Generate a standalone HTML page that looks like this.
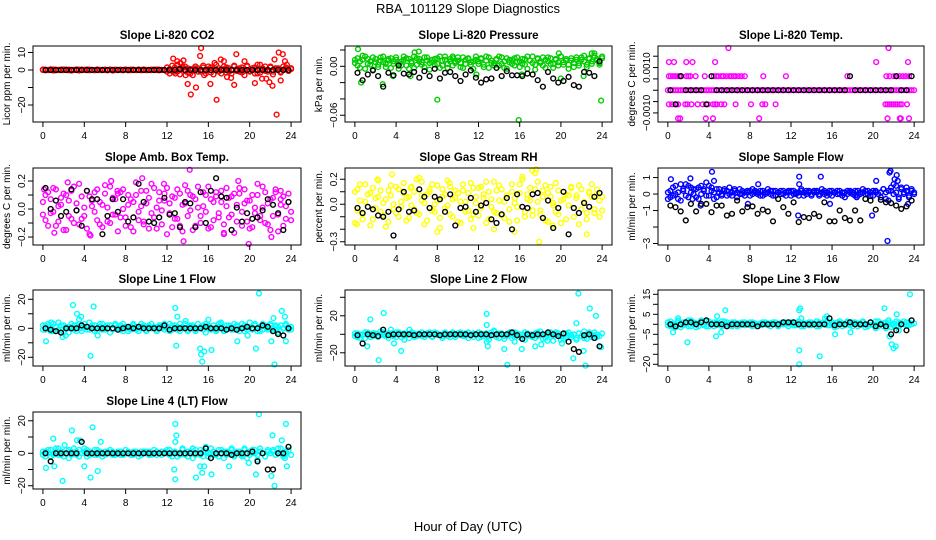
<!DOCTYPE html>
<html><head><meta charset="utf-8"><title>RBA_101129 Slope Diagnostics</title>
<style>
html,body{margin:0;padding:0;background:#fff;}
svg{display:block;font-family:"Liberation Sans",Arial,sans-serif;}
</style></head>
<body>
<svg id="chart" width="936" height="540" viewBox="0 0 936 540" xmlns="http://www.w3.org/2000/svg">
<rect x="0" y="0" width="936" height="540" fill="#fff"/>
<text x="468" y="13" text-anchor="middle" font-size="13">RBA_101129  Slope Diagnostics</text>
<text x="468" y="531" text-anchor="middle" font-size="13">Hour of Day (UTC)</text>
</svg>
<script>
const xTicks = [0,4,8,12,16,20,24];
const xTickLabels = ['0','4','8','12','16','20','24'];
const hours = [0,0.25,0.5,0.75,1,1.25,1.5,1.75,2,2.25,2.5,2.75,3,3.25,3.5,3.75,4,4.25,4.5,4.75,5,5.25,5.5,5.75,6,6.25,6.5,6.75,7,7.25,7.5,7.75,8,8.25,8.5,8.75,9,9.25,9.5,9.75,10,10.25,10.5,10.75,11,11.25,11.5,11.75,12,12.25,12.5,12.75,13,13.25,13.5,13.75,14,14.25,14.5,14.75,15,15.25,15.5,15.75,16,16.25,16.5,16.75,17,17.25,17.5,17.75,18,18.25,18.5,18.75,19,19.25,19.5,19.75,20,20.25,20.5,20.75,21,21.25,21.5,21.75,22,22.25,22.5,22.75,23,23.25,23.5,23.75,24];
const hoursB = [0.25,0.75,1.25,1.75,2.25,2.75,3.25,3.75,4.25,4.75,5.25,5.75,6.25,6.75,7.25,7.75,8.25,8.75,9.25,9.75,10.25,10.75,11.25,11.75,12.25,12.75,13.25,13.75,14.25,14.75,15.25,15.75,16.25,16.75,17.25,17.75,18.25,18.75,19.25,19.75,20.25,20.75,21.25,21.75,22.25,22.75,23.25,23.75];

// CO2
const co2Band = [0.3,-0.2,0.1,0.4,-0.3,0.2,0,-0.1,0.3,0.2,-0.2,0.1,0,0.3,-0.3,0.2,0.1,-0.1,0.2,0,-0.2,0.3,0.1,-0.1,0.2,0,0.1,-0.3,0.2,0.1,0,-0.2,0.3,0.1,-0.1,0.2,0,0.1,-0.2,0.3,0.1,0,-0.1,0.2,0.3,-0.2,0.1,0,1.5,-2,2.5,-1,3,-2.5,1,2,-1.5,0.5,-3,2,1,-1,2.5,-2,0.5,1.5,-2.5,3,-1,0.5,2,-1.5,1,-2,2.5,0.5,-1,1.5,-3,2,-0.5,1,-2,3,-1.5,0.5,2,-1,1.5,-2.5,0.5,1,-1.5,2,0.5,-0.5,1];
const co2Band2 = [0,0.2,-0.1,0,0.3,-0.2,0.1,0.2,-0.1,0,0.2,-0.3,0.1,0,0.2,-0.1,0,0.3,-0.2,0.1,0,0.2,-0.1,0.1,0,-0.2,0.3,0.1,0,-0.1,0.2,0,0.1,-0.2,0.2,0,-0.1,0.3,0.1,0,-0.2,0.1,0.2,0,-0.1,0.2,0,0.1,-1,0.5,-0.5,1.5,-1,0,2,-0.5,1,-2,0.5,1,-1,0,1.5,-0.5,2,-1.5,0.5,0,1,-2,0.5,1.5,-1,0,2,-0.5,1,-1.5,0.5,2.5,-1,0,1.5,-2,0.5,1,-0.5,0,2,-1,1,0.5,-1,0,1.5,-0.5,0.5];
const co2OutX = [12.6,12.8,13,13.3,13.6,13.8,14,14.3,14.8,15.2,15.3,15.6,16.2,16.6,16.8,17.2,17.5,17.8,18.2,18.5,18.7,19.5,20.5,21,21.2,21.6,21.9,22.2,22.4,22.6,22.8,23,23.2,23.4,23.6];
const co2OutY = [6.5,-2,5,4,5.5,-3,-8,-14,-10,8,12.5,-3,-8,4,-17,6,5,-4,-4.5,-8.5,9,5,-7.5,3,-5,-5,-7,-9,6,-25.5,10,-6,9,5,3];
const co2Black = [0,0,0,0,0,0,0,0,0,0,0,0,0,0,0,0,0,0,0,0,0,0,0,0,0,0,0.5,0,0,0,0,0,0,0,0,0,0,0,0,0,0,0,0,0,0,0,0,0];

// Pressure
const pBand = [0.004,0.010,-0.002,0.008,0.012,0.003,0.006,-0.004,0.009,0.002,0.011,0.005,-0.001,0.007,0.010,0.003,0.008,-0.003,0.006,0.012,0.001,0.009,0.004,-0.002,0.010,0.006,0.002,0.011,0.007,-0.004,0.005,0.009,0.003,0.012,0.001,0.008,-0.002,0.006,0.010,0.004,0.007,-0.001,0.011,0.003,0.009,0.005,-0.003,0.008,0.006,0.010,0.002,0.012,-0.002,0.007,0.004,0.009,0.001,0.011,0.006,-0.003,0.008,0.003,0.010,0.005,-0.001,0.009,0.002,0.012,0.007,0.004,-0.004,0.010,0.006,0.001,0.008,0.011,0.003,-0.002,0.009,0.005,0.012,0.002,0.007,-0.003,0.010,0.004,0.008,0.001,0.011,0.006,-0.001,0.009,0.003,0.013,0.007,0.002,0.010];
const pBand2 = [0.008,0.001,0.006,0.013,-0.003,0.009,0.002,0.011,0.005,-0.001,0.007,0.012,0.003,0.009,-0.002,0.006,0.011,0.004,0.001,0.008,0.010,-0.003,0.006,0.012,0.002,0.009,0.005,-0.001,0.011,0.004,0.008,0.002,0.010,-0.002,0.007,0.012,0.003,0.009,0.001,0.006,0.011,0.004,-0.002,0.008,0.010,0.002,0.006,0.012,0.003,0.009,-0.001,0.007,0.011,0.004,0.001,0.008,0.012,0.003,-0.002,0.010,0.005,0.008,0.001,0.011,0.006,0.003,0.009,-0.003,0.007,0.012,0.002,0.009,0.004,0.011,-0.002,0.006,0.010,0.003,0.008,0.001,0.012,0.005,0.009,0.002,0.007,-0.001,0.011,0.004,0.008,0.013,0.002,0.010,0.006,0.016,0.009,0.004,0.012];
const pOutX = [0.3,0.6,2.7,5.8,6.2,8,9.5,15.9,19.8,20,23,23.9,3.7,5.4,11.8,16.2,22.2];
const pOutY = [0.021,-0.020,-0.022,0.017,0.018,-0.041,0.012,-0.066,0.016,-0.015,0.016,-0.042,-0.012,-0.012,-0.010,-0.010,-0.012];
const pBlack = [-0.008,-0.017,-0.010,-0.005,-0.012,-0.025,-0.008,-0.011,0.001,-0.009,-0.010,-0.007,-0.014,-0.006,-0.012,-0.003,-0.015,-0.008,-0.007,-0.012,-0.018,-0.010,-0.005,-0.014,-0.020,-0.016,-0.015,-0.002,-0.012,-0.006,-0.011,-0.011,-0.012,-0.009,-0.010,-0.017,-0.025,-0.007,-0.015,-0.020,-0.018,-0.013,-0.023,-0.025,-0.007,-0.008,-0.012,0.006];

// Li-820 Temp (discrete levels)
const tBand = [0,0,0,0,0,0,0,0,0,0,0,0,0,0,0,0,0,0,0,0,0,0,0,0,0,0,0,0,0,0,0,0,0,0,0,0,0,0,0,0,0,0,0,0,0,0,0,0,0,0,0,0,0,0,0,0,0,0,0,0,0,0,0,0,0,0,0,0,0,0,0,0,0,0,0,0,0,0,0,0,0,0,0,0,0,0,0,0,0,0,0,0,0,0,0,0,0];
const tOutX = [0.1,0.3,0.5,0.7,0.9,1.1,1.3,1.8,2.0,2.2,2.7,3.6,4.5,4.7,4.9,5.2,5.4,5.7,6.0,6.2,6.4,6.6,6.9,7.2,7.5,9.3,11.5,17.5,21.3,21.6,22.0,22.3,22.6,22.9,23.2,23.5,0.1,0.6,1.8,2.4,4.6,20.3,23.4,5.9,21.5,0.1,0.4,0.8,1.0,1.7,1.9,2.3,2.9,3.4,3.9,4.4,4.6,4.8,5.2,5.5,6.6,8.1,9.2,9.5,10.5,21.2,21.4,21.6,21.8,22.0,22.2,22.4,22.6,22.8,23.3,1.0,1.2,3.7,4.4,8.9,21.4,22.6,22.7,23.5];
const tOutY = [0.00062,0.00062,0.00062,0.00062,0.00062,0.00062,0.00062,0.00062,0.00062,0.00062,0.00062,0.00062,0.00062,0.00062,0.00062,0.00062,0.00062,0.00062,0.00062,0.00062,0.00062,0.00062,0.00062,0.00062,0.00062,0.00062,0.00062,0.00062,0.00062,0.00062,0.00062,0.00062,0.00062,0.00062,0.00062,0.00062,0.00124,0.00124,0.00124,0.00124,0.00124,0.00124,0.00124,0.00186,0.00186,-0.00062,-0.00062,-0.00062,-0.00062,-0.00062,-0.00062,-0.00062,-0.00062,-0.00062,-0.00062,-0.00062,-0.00062,-0.00062,-0.00062,-0.00062,-0.00062,-0.00062,-0.00062,-0.00062,-0.00062,-0.00062,-0.00062,-0.00062,-0.00062,-0.00062,-0.00062,-0.00062,-0.00062,-0.00062,-0.00062,-0.00124,-0.00124,-0.00124,-0.00124,-0.00124,-0.00124,-0.00124,-0.00124,-0.00124];
const tBlack = [0,-0.00062,0.00062,0,0,0,0,-0.00062,0.00062,0,0,0,0,0,0,0,0,0,0,0,0,0,0,0,0,0,0,0,0,0,0,0,0,0,0,0.00062,0,0,0,0,0,0,0,0,0.00062,0,0,0.00062];

// Amb box temp
const amb1 = [0.05,-0.08,0.12,-0.03,0.15,-0.12,0.02,0.08,-0.15,0.10,-0.05,0.13,-0.10,0.04,0.18,-0.07,0.01,-0.14,0.09,0.06,-0.02,0.14,-0.11,0.03,0.11,-0.09,0.16,-0.04,0.07,-0.16,0.12,0.00,-0.06,0.10,-0.13,0.05,0.19,-0.08,0.02,-0.11,0.13,0.08,-0.03,0.15,-0.14,0.06,-0.01,0.11,-0.18,0.04,0.09,-0.07,0.14,-0.12,0.03,0.17,-0.05,0.10,-0.15,0.07,0.01,-0.10,0.12,-0.02,0.16,-0.13,0.05,0.09,-0.06,0.13,-0.17,0.02,0.08,-0.04,0.11,-0.09,0.15,-0.12,0.04,0.06,-0.14,0.10,-0.03,0.18,-0.08,0.01,0.12,-0.11,0.07,-0.05,0.14,-0.16,0.03,0.09,-0.07,0.11,-0.02];
const amb2 = [-0.04,0.10,-0.12,0.07,-0.02,0.14,-0.09,0.03,0.11,-0.15,0.06,-0.07,0.16,-0.01,-0.11,0.09,-0.05,0.13,-0.18,0.02,0.12,-0.08,0.05,-0.13,0.17,0.01,-0.10,0.08,-0.04,0.11,-0.06,0.14,-0.12,0.03,0.07,-0.16,0.10,-0.02,0.13,-0.09,0.04,-0.14,0.18,-0.06,0.01,0.12,-0.11,0.06,0.15,-0.03,-0.13,0.08,-0.07,0.11,-0.16,0.04,0.13,-0.01,0.09,-0.12,0.16,-0.05,0.02,0.10,-0.14,0.07,-0.08,0.12,-0.03,0.05,-0.11,0.15,-0.06,0.09,-0.17,0.03,0.11,-0.02,0.14,-0.09,0.06,-0.13,0.01,0.10,-0.05,0.16,-0.10,0.04,-0.15,0.08,0.12,-0.04,0.07,-0.12,0.02,0.05,-0.08];
const ambOutX = [0.1,1.1,4.6,7.2,9.6,13.9,14.2,13.6,17.5,18.9,19.9,23,22.1,11.7,2.4,6.6];
const ambOutY = [0.14,-0.17,-0.19,0.13,0.22,0.30,0.28,-0.23,-0.18,0.20,-0.25,0.13,-0.20,0.18,0.19,0.20];
const ambBlack = [0.15,0,0.06,-0.05,-0.02,0.14,-0.01,-0.12,0.13,0.07,0.07,-0.18,-0.05,0.07,-0.02,0.07,-0.09,-0.06,0.18,0.05,-0.09,-0.10,-0.06,0.08,-0.04,-0.03,-0.13,0.05,0.04,-0.13,0.12,-0.10,0.13,0.22,0.09,0.08,-0.15,0.01,-0.09,-0.03,-0.07,-0.06,-0.01,0.07,0.03,-0.03,-0.15,0.05];

// Gas stream RH
const rh1 = [-0.15,0.12,0.03,-0.08,0.16,-0.02,0.09,-0.12,0.05,0.19,-0.06,0.01,-0.18,0.11,0.07,-0.04,0.14,-0.10,0.02,0.17,-0.13,0.06,-0.01,0.10,-0.07,0.21,0.03,-0.16,0.08,0.12,-0.05,0.00,0.15,-0.11,0.06,-0.03,0.19,-0.08,0.04,0.11,-0.14,0.02,0.16,-0.06,0.09,-0.12,0.13,0.01,-0.09,0.14,0.05,-0.15,0.10,-0.02,0.18,-0.07,0.03,0.12,-0.11,0.07,-0.04,0.16,0.01,-0.13,0.09,0.22,-0.06,0.04,0.13,-0.09,0.25,0.02,-0.05,0.11,0.15,-0.14,0.06,-0.01,0.17,-0.08,0.03,0.10,-0.12,0.07,0.14,-0.03,0.05,-0.16,0.12,0.01,-0.07,0.09,0.16,-0.04,0.08,-0.10,0.06];
const rh2 = [0.10,-0.05,0.16,-0.12,0.02,0.08,-0.17,0.13,-0.03,0.06,0.11,-0.09,0.04,-0.14,0.15,0.00,-0.07,0.12,-0.02,0.09,0.05,-0.11,0.14,-0.04,0.20,-0.08,0.07,0.01,-0.13,0.10,0.16,-0.06,0.03,-0.19,0.12,0.08,-0.01,0.14,-0.10,0.05,0.09,-0.15,0.11,0.02,-0.05,0.17,-0.08,0.06,0.13,-0.03,0.08,0.18,-0.12,0.04,-0.06,0.11,0.15,-0.09,0.02,0.07,-0.14,0.10,0.05,-0.02,0.16,0.20,-0.10,0.08,0.03,-0.05,0.12,0.18,-0.08,0.06,-0.13,0.09,0.14,0.01,-0.06,0.11,-0.15,0.04,0.08,-0.01,0.13,-0.10,0.07,0.15,-0.04,0.02,-0.12,0.10,0.06,-0.07,0.12,0.03,-0.05];
const rhOutX = [0.2,3.6,5.4,6.5,8,9.2,13.5,15.5,17.2,17.6,17.9,22.5,11.5,19.2,2.2];
const rhOutY = [-0.16,0.24,0.13,0.18,-0.22,0.17,-0.20,-0.22,0.27,0.28,-0.30,-0.24,-0.19,-0.17,0.20];
const rhBlack = [-0.03,-0.07,-0.02,-0.04,-0.09,-0.10,-0.06,-0.25,-0.04,0.10,-0.06,-0.05,0.12,0.06,-0.03,0.06,0.04,-0.06,0.08,-0.17,-0.03,-0.02,0.05,-0.06,-0.01,0.01,-0.12,-0.15,-0.08,0.05,-0.20,0.08,-0.02,-0.03,0.08,0.09,-0.11,0.03,-0.19,-0.03,0.10,-0.24,-0.03,-0.07,0.01,-0.02,0.06,0.09];

// Sample flow
const sf1 = [-0.3,0.2,-0.1,0.5,0.1,-0.4,0.3,0.6,-0.2,0.4,0.0,0.3,-0.3,0.5,0.2,0.7,-0.1,0.4,0.1,-0.2,0.3,0.0,0.2,-0.1,0.4,0.1,0.2,-0.2,0.3,0.0,0.1,0.2,-0.1,0.3,0.1,0.0,0.2,-0.1,0.1,0.3,0.0,0.2,-0.1,0.1,0.2,0.0,0.1,0.2,-0.1,0.2,0.0,0.1,0.3,-0.1,0.2,0.1,0.0,0.2,0.1,-0.1,0.3,0.0,0.1,0.2,-0.1,0.1,0.2,0.0,0.1,-0.2,0.2,0.1,0.0,0.2,-0.1,0.1,0.3,0.0,0.2,0.1,-0.1,0.2,0.0,0.1,0.3,-0.3,0.2,0.4,0.0,0.5,-0.2,0.3,0.1,0.4,-0.1,0.2,0.1];
const sf2 = [0.1,-0.2,0.4,0.0,-0.3,0.6,0.2,-0.1,0.5,0.1,0.3,-0.2,0.4,0.0,0.3,-0.1,0.5,0.2,-0.3,0.3,0.1,-0.1,0.3,0.2,0.0,-0.1,0.3,0.1,0.0,0.2,-0.1,0.1,0.2,0.0,0.2,0.1,-0.1,0.2,0.0,0.1,0.2,-0.1,0.2,0.1,0.0,0.2,-0.1,0.1,0.2,0.0,0.1,-0.1,0.2,0.1,0.0,0.2,-0.1,0.1,0.2,0.0,0.1,0.2,-0.1,0.0,0.2,0.1,0.0,0.2,-0.1,0.1,0.0,0.2,0.1,-0.1,0.2,0.0,0.1,0.2,0.0,-0.1,0.2,0.1,0.0,-0.2,0.3,0.1,-0.4,0.2,0.6,0.1,-0.3,0.4,0.0,0.2,-0.2,0.3,0.0];
const sfOutX = [0.3,2.2,4.3,4.5,2.4,3.2,7.8,8.8,12.8,12.7,14.9,12.8,15.8,19.9,20.3,21.4,21.6,21.7,22.3,22.4,22.1,23.4,18.4];
const sfOutY = [0.9,0.95,1.35,0.8,-0.3,-0.7,-0.6,0.6,1.05,-1.3,1.05,0.6,-0.6,-1.3,0.8,-2.85,1.3,1.4,1.15,0.8,0.9,-0.6,-0.2];
const sfBlack = [-0.7,-0.8,-1.05,-1.6,-0.6,-1.05,-0.6,-0.6,-1.1,-0.7,-0.7,-1.3,-1.2,-0.4,-1.05,-0.8,-0.75,-1.2,-0.95,-1.05,-1.65,-0.3,-0.8,-1.2,-0.5,-1.7,-1.4,-1.45,-1.2,-1.35,-0.5,-1.65,-1.65,-1.0,-1.45,-1.6,-1.0,-1.6,-0.3,-0.4,-0.95,-0.35,-0.5,-0.55,-0.7,-0.9,-0.75,-0.4];

// Line 1
const l1Band = [2,-1,3,0,-2,1,4,-1,2,0,-3,1,2,-2,3,0,1,-1,4,2,-2,0,3,-1,1,2,-3,0,2,1,-1,3,0,-2,1,2,-1,0,3,1,-2,2,0,1,-1,2,0,3,1,-2,2,0,-1,3,1,0,-2,2,1,-1,3,0,2,-3,1,0,2,-1,3,1,-2,0,2,1,-1,2,0,3,-2,1,4,-1,2,0,-2,3,1,-1,2,0,1,-3,2,0,3,-1,1];
const l1Band2 = [-1,2,0,-2,3,1,-1,2,-3,1,0,3,-1,2,0,-2,3,1,-1,0,2,-2,1,3,-1,0,2,-1,3,0,2,-2,1,0,-1,3,1,-2,0,2,-1,1,3,0,-2,1,2,-1,0,3,-1,2,1,-2,0,3,-1,1,2,-2,0,1,-1,3,2,-1,0,-2,1,3,-1,2,0,-1,3,1,-2,0,2,-1,1,0,3,-2,1,-1,2,0,3,-1,2,1,-2,0,2,1,-1];
const l1OutX = [0.3,0.8,1.9,2.2,2.9,3.3,3.5,3.7,4.6,4.9,5.3,12.8,12.9,13.0,13.8,15.2,15.3,15.4,15.6,16.3,16.0,17.2,18.8,19.8,20.6,20.9,22.1,22.3,22.4,23.1,23.5,23.4];
const l1OutY = [-9,4,-6,-5,16,10,6,8,-19,15,-5,14,-12,8,5,-14,-18,-23,-16,-15,6,4,-9,-5,-14,24,-9,7,-25,12,-9,8];
const l1Black = [0,-1,-2,-3,0,0,0,2,1,0,0,0,0,0,-1,0,1,0,1,0,0,0,0,2,-1,0,0,0,0,0,0,1,0,0,0,-1,0,-1,0,1,0,0,2,1,-2,-4,-5,0];

// Line 2
const l2Band = [-2,1,-4,0,2,-1,-3,1,0,-2,3,-1,0,-4,1,-2,2,0,-3,1,-1,0,2,-3,0,1,-2,0,-1,2,-3,0,1,-1,-2,2,0,-3,1,-1,0,2,-2,1,-4,0,1,-1,2,-3,0,1,-2,-1,3,0,-4,1,-2,0,2,-1,-3,1,0,-5,2,-1,0,-3,1,-2,3,0,-4,-1,2,-2,0,1,-6,0,-3,2,-1,0,-4,1,-2,3,-5,0,-1,2,-3];
const l2Band2 = [1,-3,0,-1,-4,2,0,-2,1,-3,0,2,-2,1,-1,0,-3,2,0,-2,1,-4,0,1,-2,-1,2,-3,1,0,-2,2,-1,0,-4,1,-2,0,2,-3,1,-1,0,-2,2,-1,-3,0,-4,1,-2,0,-6,2,-1,-3,1,0,-5,-2,1,-4,2,-1,-3,0,-6,1,-2,0,-4,2,-1,-5,0,1,-3,-7,2,0,-2,-5,1,-1,-3,0,-6,1,-2,-4,0,2,-3,-1,0,-2,1];
const l2OutX = [1.5,1.2,2.3,2.8,3.2,3.5,3.8,4.5,4.8,5.3,12.8,12.8,12.9,12.8,13.5,14.5,14.8,15.5,16.2,17.5,18.1,18.7,20.1,21.2,21.5,21.7,22.4,22.8,23.4,23.9,22.2];
const l2OutY = [16,-13,-28,23,-1,5,-10,-18,-6,5,22,10,-13,-8,4,-16,-33,-8,-16,-13,-11,-7,-10,-26,12,44,-34,28,20,-14,-18];
const l2Black = [-1,-10,0,-1,-2,5,-1,0,0,0,0,-1,0,0,0,0,-1,0,0,0,0,0,-1,0,0,0,-1,0,0,0,2,-1,-5,0,-1,0,0,2,0,-2,1,-8,-16,-19,-1,0,-4,-13];

// Line 3
const l3Band = [1,-1,0.5,-1.5,1.5,0,-0.5,1,-1,2,0,-1.5,0.5,1,-0.5,1.5,-1,0,1,-0.5,0.5,-1,1.5,0,-0.5,1,0,-1,0.5,1,-0.5,0,1,-1,0.5,0,-0.5,1,0,0.5,-1,0,1,-0.5,0.5,0,1,-1,0,0.5,-0.5,1,0,-1,0.5,1,-0.5,0,1.5,-1,0.5,0,-0.5,1,0,-1.5,1,0.5,-1,0,1.5,-0.5,1,0,-1,0.5,1,-1.5,0,1,-0.5,1.5,-1,0,0.5,-2,1,0,-0.5,1.5,-1,0.5,0,1,-0.5];
const l3Band2 = [-0.5,1.5,-1,0,2,-1.5,1,0,2,-1,1,0.5,-1,2,0,-1,1.5,0.5,-1,1,0,1.5,-0.5,1,0,-1,1,0.5,-0.5,0,1,0.5,-0.5,1,0,-1,0.5,0,1,-0.5,0.5,1,0,-1,0.5,1,0,0.5,1,-0.5,0,1.5,-1,0.5,0,-0.5,1,0.5,-1,1,0,0.5,1.5,-0.5,1,0,-1,1.5,0.5,-0.5,1,0,-1,1,0.5,-0.5,1.5,0,-1,1,0,-2,1.5,0.5,-1,1,2,-1.5,0.5,-1,1,0,1.5,-0.5,1,0,0.5];
const l3OutX = [0.5,1,1.9,2.2,4.7,4.8,5.2,5.6,12.8,12.8,12.8,12.9,13.0,14.8,15.3,15.5,16.3,17.8,21.1,21.6,21.8,22,22.2,22.3,22.5,23.6];
const l3OutY = [-4,3,-9,1,-6,4,-4,7,7,-13,-20,8,3,-16,3,4,-5,-4,8,-6,-10,-12,-11,5,-3,15];
const l3Black = [0,-1,0,1,1,0,1,2,0,0,0,-1,0,0,0,0,0,-1,0,0,0,0,1,1,1,0,0,0,0,0,0,3,-0.5,0,0,1,0,0,0,1,-1,0,-1,-5,-3,0,-3,2];

// Line 4
const l4Band = [1,-2,0,2,-1,1,3,-1,0,2,-3,1,0,-1,2,0,3,-2,1,0,-1,2,0,-2,1,0,2,-1,0,1,-1,0,2,0,-1,1,0,-2,1,0,1,-1,0,2,-1,0,1,0,2,-1,0,1,-2,0,3,-1,1,0,-3,2,0,-1,1,4,-2,0,1,-1,2,0,-3,1,0,2,-1,0,1,-2,3,0,-1,2,0,-4,1,0,-2,2,0,1,-1,3,0,-2,1];
const l4Band2 = [-1,1,2,-2,0,3,-1,1,-2,0,2,-1,3,1,-2,0,1,2,-1,0,2,-1,1,0,-1,1,0,1,-1,0,1,-1,0,1,0,-1,1,0,-1,1,0,1,-1,0,1,0,-1,1,0,2,-2,1,0,-1,2,0,-2,1,3,-1,0,2,-2,1,0,3,-1,0,-2,2,1,-1,0,3,-2,1,0,-1,2,-3,1,0,2,-1,3,0,-2,1,0,2,-1,0,3,-1,0,2,-1];
const l4OutX = [0.3,1.0,1.1,1.9,2.1,2.8,3.3,3.6,4.0,4.6,4.8,5.3,5.6,12.7,12.8,12.8,12.9,12.8,14.8,15.2,15.4,16.3,15.6,18,19.9,20.6,20.9,22.1,22.2,22.4,23.1,23.5,23.6,23.4];
const l4OutY = [-9,9,-8,-17,5,14,8,8,-8,-15,16,-11,7,-10,18,-16,11,7,-15,-8,-12,-13,-8,-8,-6,-13,24,-14,11,-20,8,18,-8,-3];
const l4Black = [0,-5,0,0,0,0,0,7,0,0,0,0,0,0,0,0,0,0,0,0,0,0,0,0,0,0,0,0,0,0,0,3,-3,0,0,0,-1,0,0,0,1,-5,0,-10,-10,0,0,4];

const svg = document.getElementById('chart');
const NS = 'http://www.w3.org/2000/svg';
const cols = [[33,301],[345,612],[658,924]];
const rows = [[46,122],[168,245],[290,366],[412,489]];

function mk(tag, attrs, parent) {
  const e = document.createElementNS(NS, tag);
  for (const k in attrs) e.setAttribute(k, attrs[k]);
  parent.appendChild(e);
  return e;
}

const panels = [
 {key:'co2', title:'Slope Li-820 CO2', ylab:'Licor ppm per min.', col:0,row:0,color:'#ff0000',yMin:-29.7,yMax:13.7,ticks:[-20,-10,0,10],labels:['\u221220','','0','10'],bands:[co2Band,co2Band2],outX:co2OutX,outY:co2OutY,black:co2Black},
 {key:'pressure', title:'Slope Li-820 Pressure', ylab:'kPa per min.', col:1,row:0,color:'#00cc00',yMin:-0.0683,yMax:0.0249,ticks:[-0.06,-0.04,-0.02,0,0.02],labels:['\u22120.06','','','0.00',''],bands:[pBand,pBand2],outX:pOutX,outY:pOutY,black:pBlack},
 {key:'temp', title:'Slope Li-820 Temp.', ylab:'degrees C per min.', col:2,row:0,color:'#ff00ff',yMin:-0.0014,yMax:0.00195,ticks:[-0.001,-0.0005,0,0.0005,0.001,0.0015],labels:['\u22120.0010','','','','0.0010',''],bands:[tBand],outX:tOutX,outY:tOutY,black:tBlack},
 {key:'amb-temp', title:'Slope Amb. Box Temp.', ylab:'degrees C per min.', col:0,row:1,color:'#ff00ff',yMin:-0.257,yMax:0.293,ticks:[-0.2,-0.1,0,0.1,0.2],labels:['\u22120.2','','0.0','','0.2'],bands:[amb1,amb2],outX:ambOutX,outY:ambOutY,black:ambBlack},
 {key:'rh', title:'Slope Gas Stream RH', ylab:'percent per min.', col:1,row:1,color:'#ffff00',yMin:-0.326,yMax:0.29,ticks:[-0.3,-0.2,-0.1,0,0.1,0.2],labels:['\u22120.3','','','0.0','','0.2'],bands:[rh1,rh2],outX:rhOutX,outY:rhOutY,black:rhBlack},
 {key:'sample-flow', title:'Slope Sample Flow', ylab:'ml/min per min.', col:2,row:1,color:'#0000ff',yMin:-3.09,yMax:1.58,ticks:[-3,-2,-1,0,1],labels:['\u22123','','\u22121','0','1'],bands:[sf1,sf2],outX:sfOutX,outY:sfOutY,black:sfBlack},
 {key:'line1', title:'Slope Line 1 Flow', ylab:'ml/min per min.', col:0,row:2,color:'#00ffff',yMin:-26,yMax:26.4,ticks:[-20,-10,0,10,20],labels:['\u221220','','0','','20'],bands:[l1Band,l1Band2],outX:l1OutX,outY:l1OutY,black:l1Black},
 {key:'line2', title:'Slope Line 2 Flow', ylab:'ml/min per min.', col:1,row:2,color:'#00ffff',yMin:-34.3,yMax:47.9,ticks:[-20,0,20,40],labels:['\u221220','','20',''],bands:[l2Band,l2Band2],outX:l2OutX,outY:l2OutY,black:l2Black},
 {key:'line3', title:'Slope Line 3 Flow', ylab:'ml/min per min.', col:2,row:2,color:'#00ffff',yMin:-20.85,yMax:17.15,ticks:[-20,-15,-10,-5,0,5,10,15],labels:['\u221220','','','\u22125','','5','','15'],bands:[l3Band,l3Band2],outX:l3OutX,outY:l3OutY,black:l3Black},
 {key:'line4', title:'Slope Line 4 (LT) Flow', ylab:'ml/min per min.', col:0,row:3,color:'#00ffff',yMin:-22,yMax:25.4,ticks:[-20,-10,0,10,20],labels:['\u221220','','0','','20'],bands:[l4Band,l4Band2],outX:l4OutX,outY:l4OutY,black:l4Black}
];

panels.forEach(p => {
  const L = cols[p.col][0], R = cols[p.col][1];
  const T = rows[p.row][0], B = rows[p.row][1];
  const xs = h => L + (h + 0.96) / 25.92 * (R - L);
  const ys = v => B - (v - p.yMin) / (p.yMax - p.yMin) * (B - T);
  const g = mk('g', {}, svg);
  
  

  const t = mk('text', {x:(L+R)/2, y:T-7, 'text-anchor':'middle', 'font-size':'11.5', 'font-weight':'bold'}, g);
  t.textContent = p.title;
  
  

  const yl = mk('text', {x:L-23, y:(T+B)/2, 'text-anchor':'middle', 'font-size':'10', transform:'rotate(-90 '+(L-23)+' '+((T+B)/2)+')'}, g);
  yl.textContent = p.ylab;
  
  

  const pts = mk('g', {fill:'none', 'stroke-width':'1.4'}, g);
  
  
  const drawPt = (h, v, col, name) => {
    if (v < p.yMin || v > p.yMax) return;
    const c = mk('circle', {cx:xs(h).toFixed(1), cy:ys(v).toFixed(1), r:'2.4', stroke:col}, pts);
    
    
  };
  p.bands.forEach(arr => {
    const n = Math.min(arr.length, hours.length);
    for (let i = 0; i < n; i++) drawPt(hours[i], arr[i], p.color, 'point');
  });
  for (let i = 0; i < Math.min(p.outX.length, p.outY.length); i++) drawPt(p.outX[i], p.outY[i], p.color, 'outlier-point');
  for (let i = 0; i < Math.min(p.black.length, hoursB.length); i++) drawPt(hoursB[i], p.black[i], '#000', 'mean-point');

  const box = mk('rect', {x:L, y:T, width:R-L, height:B-T, fill:'none', stroke:'#000', 'stroke-width':'1'}, g);
  
  

  const xa = mk('g', {stroke:'#000', 'stroke-width':'1'}, g);
  
  
  xTicks.forEach((h, i) => {
    const x = xs(h);
    mk('line', {x1:x, x2:x, y1:B, y2:B+5}, xa);
    const tl = mk('text', {x:x, y:B+17, 'text-anchor':'middle', 'font-size':'10', stroke:'none', fill:'#000'}, xa);
    tl.textContent = xTickLabels[i];
    
    
  });

  const ya = mk('g', {stroke:'#000', 'stroke-width':'1'}, g);
  
  
  p.ticks.forEach((v, i) => {
    const y = ys(v);
    mk('line', {x1:L-5, x2:L, y1:y, y2:y}, ya);
    if (p.labels[i]) {
      const tl = mk('text', {x:L-8, y:y, 'text-anchor':'middle', 'font-size':'10', stroke:'none', fill:'#000', transform:'rotate(-90 '+(L-8)+' '+y+')'}, ya);
      tl.textContent = p.labels[i];
      
      
    }
  });
});
</script>
</body></html>
